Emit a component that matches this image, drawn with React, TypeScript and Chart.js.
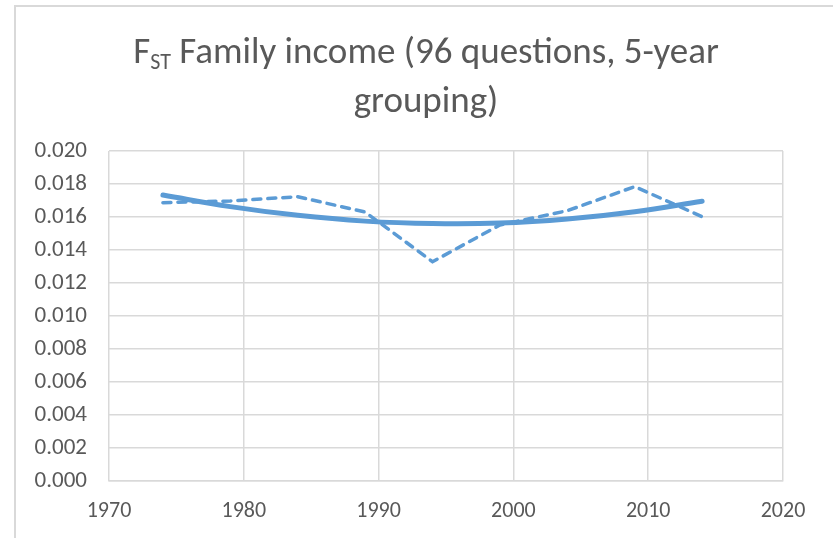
import React, { useEffect, useRef } from "react";
import { Chart, registerables } from "chart.js";

Chart.register(...registerables);

const titleMain = "F";
const titleSub = "ST";
const titleRest = " Family income (96 questions, 5-year";
const titleLine2 = "grouping)";

const years = [1974, 1979, 1984, 1989, 1994, 1999, 2004, 2009, 2014];
const fstValues = [0.01687, 0.01697, 0.01723, 0.0163, 0.01329, 0.01552, 0.01638, 0.01784, 0.01602];
const trendValues = [0.01733, 0.01663, 0.0161, 0.01575, 0.0156, 0.01563, 0.01588, 0.01632, 0.01696];

const xMin = 1970;
const xMax = 2020;
const xStep = 10;
const yMin = 0;
const yMax = 0.02;
const yStep = 0.002;

const FONT = "Calibri, Carlito, Lato, sans-serif";
const TEXT = "#595959";
const GRID = "#D9D9D9";
const BLUE = "#5B9BD5";

const chromePlugin = {
  id: "chrome",
  beforeDraw(chart: any) {
    const ctx = chart.ctx;
    ctx.save();
    ctx.fillStyle = "#ffffff";
    ctx.fillRect(0, 0, chart.width, chart.height);
    ctx.strokeStyle = GRID;
    ctx.lineWidth = 2;
    ctx.beginPath();
    ctx.moveTo(15, chart.height);
    ctx.lineTo(15, 6);
    ctx.lineTo(chart.width, 6);
    ctx.stroke();

    // title
    const size = 37;
    const subSize = 22;
    const cx = 426;
    ctx.fillStyle = TEXT;
    ctx.textBaseline = "alphabetic";
    ctx.textAlign = "left";
    ctx.font = `${size}px ${FONT}`;
    const wMain = ctx.measureText(titleMain).width;
    const wRest = ctx.measureText(titleRest).width;
    ctx.font = `${subSize}px ${FONT}`;
    const wSub = ctx.measureText(titleSub).width;
    const total = wMain + wSub + wRest;
    let x = cx - total / 2;
    const base1 = 63;
    ctx.font = `${size}px ${FONT}`;
    ctx.fillText(titleMain, x, base1);
    x += wMain;
    ctx.font = `${subSize}px ${FONT}`;
    ctx.fillText(titleSub, x, base1 + 6);
    x += wSub;
    ctx.font = `${size}px ${FONT}`;
    ctx.fillText(titleRest, x, base1);
    ctx.textAlign = "center";
    ctx.fillText(titleLine2, cx, 112);
    ctx.restore();
  },
};

export default function App() {
  const ref = useRef<HTMLCanvasElement | null>(null);
  useEffect(() => {
    if (!ref.current) return;
    const chart = new Chart(ref.current, {
      type: "line",
      data: {
        datasets: [
          {
            label: "Trend",
            data: years.map((y, i) => ({ x: y, y: trendValues[i] })),
            borderColor: BLUE,
            borderWidth: 5,
            borderCapStyle: "round",
            tension: 0.4,
            pointRadius: 0,
            fill: false,
          },
          {
            label: "FST",
            data: years.map((y, i) => ({ x: y, y: fstValues[i] })),
            borderColor: BLUE,
            borderWidth: 3.5,
            borderDash: [8, 7],
            borderCapStyle: "round",
            tension: 0,
            pointRadius: 0,
            fill: false,
          },
        ],
      },
      options: {
        responsive: false,
        animation: false,
        layout: { padding: { left: 0, right: 50, top: 151, bottom: 0 } },
        plugins: {
          legend: { display: false },
          title: { display: false },
          tooltip: { enabled: false },
        },
        scales: {
          x: {
            type: "linear",
            min: xMin,
            max: xMax,
            ticks: {
              stepSize: xStep,
              color: TEXT,
              font: { family: FONT, size: 22 },
              padding: 17,
              callback: (v: any) => String(v),
            },
            grid: { color: GRID, lineWidth: 1.5, drawTicks: false },
            border: { color: GRID, width: 1.5 },
            afterFit: (s: any) => {
              s.height = 57;
            },
          },
          y: {
            type: "linear",
            min: yMin,
            max: yMax,
            ticks: {
              stepSize: yStep,
              color: TEXT,
              font: { family: FONT, size: 23 },
              padding: 22,
              callback: (v: any) => Number(v).toFixed(3),
            },
            grid: { color: GRID, lineWidth: 1.5, drawTicks: false },
            border: { display: false },
            afterFit: (s: any) => {
              s.width = 109;
            },
          },
        },
      },
      plugins: [chromePlugin],
    });
    return () => chart.destroy();
  }, []);
  return (
    <div style={{ position: "absolute", left: 0, top: 0, width: 833, height: 538 }}>
      <canvas ref={ref} width={833} height={538} style={{ width: 833, height: 538 }} />
    </div>
  );
}
